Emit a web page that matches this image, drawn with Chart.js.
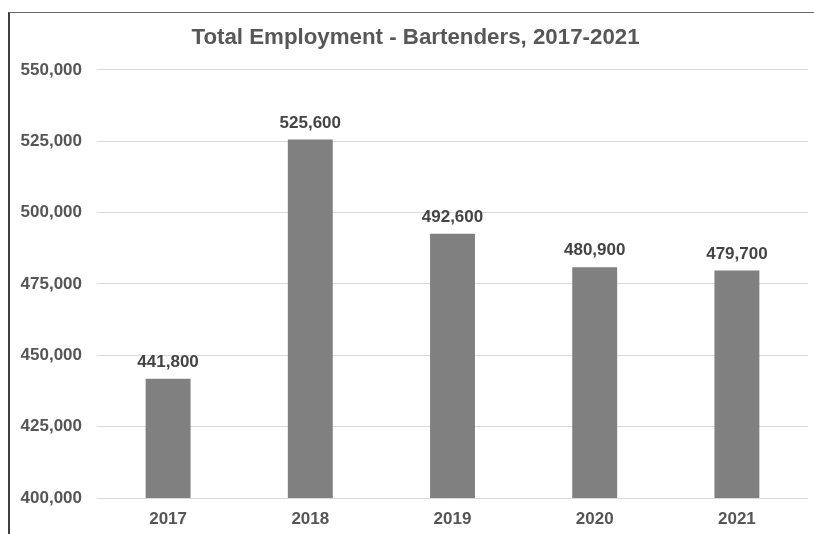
<!DOCTYPE html>
<html>
<head>
<meta charset="utf-8">
<script src="https://cdn.jsdelivr.net/npm/chart.js@4/dist/chart.umd.min.js"></script>
<style>
  html, body { margin: 0; padding: 0; background: #ffffff; }
  #wrap { position: relative; width: 814px; height: 534px; overflow: hidden; }
  #frame { position: absolute; left: 8px; top: 12px; right: -4px; bottom: -4px;
           border-left: 2px solid #3f3f3f; border-top: 1px solid #6a6a6a; }
  canvas { position: absolute; left: 0; top: 0; }
</style>
</head>
<body>
<div id="wrap">
  <div id="frame"></div>
  <canvas id="chart" width="814" height="534"></canvas>
</div>
<script>
// Bartender employment by year
const years = ['2017', '2018', '2019', '2020', '2021'];
const employment = [441800, 525600, 492600, 480900, 479700];
const yTicks = [400000, 425000, 450000, 475000, 500000, 525000, 550000];

const FONT = '"Liberation Sans", Arial, Helvetica, sans-serif';
const fmt = v => v.toLocaleString('en-US');

// Writes each bar's value just above it
const barValueLabels = {
  id: 'barValueLabels',
  afterDatasetsDraw(chart) {
    const ctx = chart.ctx;
    const meta = chart.getDatasetMeta(0);
    const data = chart.data.datasets[0].data;
    ctx.save();
    ctx.font = 'bold 17px ' + FONT;
    ctx.fillStyle = '#444444';
    ctx.textAlign = 'center';
    ctx.textBaseline = 'alphabetic';
    meta.data.forEach((bar, i) => {
      ctx.fillText(fmt(data[i]), bar.x, bar.y - 12);
    });
    ctx.restore();
  }
};

// Centre the heading a little right of the canvas middle, over the framed area
const titleOffset = {
  id: 'titleOffset',
  afterLayout(chart) {
    if (chart.titleBlock) {
      chart.titleBlock.left += 8;
    }
  }
};

new Chart(document.getElementById('chart'), {
  type: 'bar',
  data: {
    labels: years,
    datasets: [{
      data: employment,
      backgroundColor: '#808080',
      borderWidth: 0,
      barPercentage: 1,
      categoryPercentage: 0.316
    }]
  },
  options: {
    responsive: false,
    animation: false,
    events: [],
    layout: { padding: { left: 15, right: 6, top: 0, bottom: 0 } },
    plugins: {
      legend: { display: false },
      tooltip: { enabled: false },
      title: {
        display: true,
        text: 'Total Employment - Bartenders, 2017-2021',
        color: '#575757',
        font: { family: FONT, size: 22.3, weight: 'bold', lineHeight: 1.2 },
        padding: { top: 24, bottom: 19.2 }
      }
    },
    scales: {
      x: {
        grid: { display: false, drawTicks: false },
        border: { display: false },
        ticks: {
          color: '#555555',
          font: { family: FONT, size: 17, weight: 'bold' },
          padding: 11
        },
        afterFit(scale) { scale.height = 36; }
      },
      y: {
        min: yTicks[0],
        max: yTicks[yTicks.length - 1],
        afterBuildTicks(scale) { scale.ticks = yTicks.map(v => ({ value: v })); },
        grid: { color: '#d9d9d9', lineWidth: 1, drawTicks: false },
        border: { display: false },
        ticks: {
          color: '#555555',
          font: { family: FONT, size: 17, weight: 'bold' },
          padding: 15,
          callback: v => fmt(v)
        },
        afterFit(scale) { scale.width = 82; }
      }
    }
  },
  plugins: [barValueLabels, titleOffset]
});
</script>
</body>
</html>
